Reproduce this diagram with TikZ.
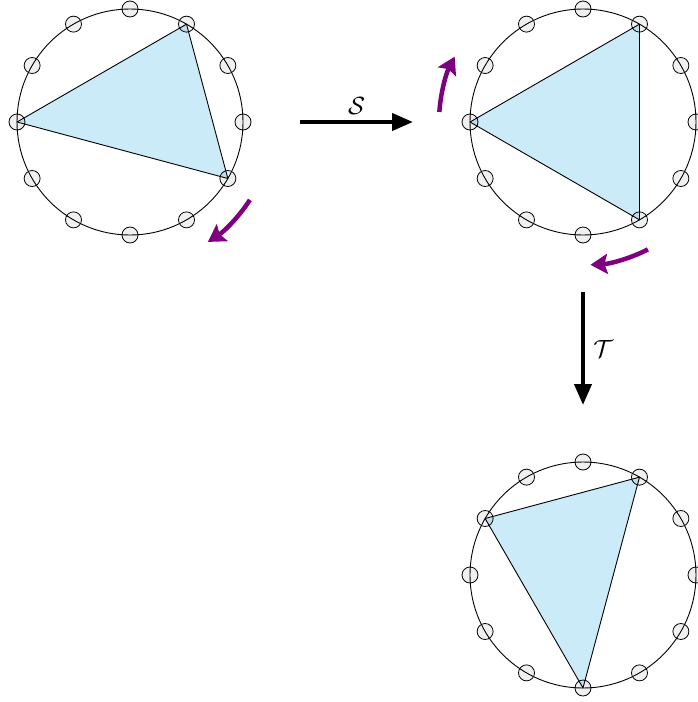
\documentclass[tikz,border=0pt]{standalone}
\usetikzlibrary{arrows.meta}
\definecolor{tribl}{HTML}{CCEBF8}
\definecolor{rotc}{HTML}{7F007F}
\begin{document}
\begin{tikzpicture}[x=1pt,y=-1pt,
  wheel/.style={circle,draw,line width=0.9pt,minimum size=226pt,inner sep=0pt,outer sep=0pt},
  vtx/.style={circle,draw,line width=0.8pt,minimum size=16pt,inner sep=0pt,fill=black,fill opacity=0.06,draw opacity=1},
  tri/.style={fill=tribl,draw=black,line width=0.9pt,line join=round},
  bigarr/.style={line width=4pt,-{Triangle[length=21pt,width=17pt]},shorten <=57pt,shorten >=57pt},
  rotarr/.style={draw=rotc,line width=4.5pt,-{Stealth[length=17pt,width=20pt,inset=3pt]}},
  lab/.style={font=\fontsize{26}{30}\selectfont}]
\useasboundingbox (0,0) rectangle (698,702);
\coordinate (A) at (130,122);
\coordinate (B) at (583,122);
\coordinate (C) at (583,575);
\foreach \w in {A,B,C}{
  \foreach \k in {0,...,11}{
    \path (\w) ++(\k*30:113pt) coordinate (\w\k);
  }
}
\draw[tri] (A6) -- (A2) -- (A11) -- cycle;
\draw[tri] (B6) -- (B2) -- (B10) -- cycle;
\draw[tri] (C5) -- (C2) -- (C9) -- cycle;
\node[wheel] (W1) at (A) {};
\node[wheel] (W2) at (B) {};
\node[wheel] (W3) at (C) {};
\foreach \w in {A,B,C}{
  \foreach \k in {0,...,11}{
    \node[vtx] (v\w\k) at (\w\k) {};
  }
}
% rotation arrows
\draw[rotarr] (A) ++(-33:143pt) arc[start angle=-33,end angle=-57,radius=143pt];
\draw[rotarr] (B) ++(176:144pt) arc[start angle=176,end angle=153,radius=144pt];
\draw[rotarr] (B) ++(-63:143pt) arc[start angle=-63,end angle=-87,radius=143pt];
% maps
\draw[bigarr] (W1) -- node[lab,above=2pt] {$\mathcal{S}$} (W2);
\draw[bigarr] (W2) -- node[lab,right=5pt] {$\mathcal{T}$} (W3);
\end{tikzpicture}
\end{document}
